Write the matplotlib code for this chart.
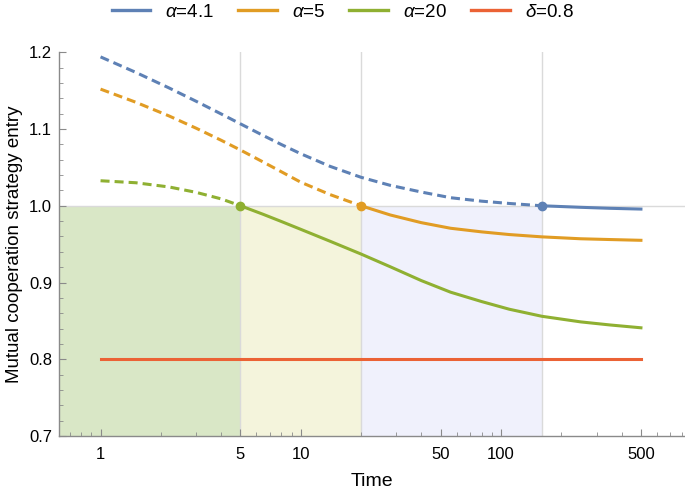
import matplotlib
matplotlib.use("Agg")
import matplotlib.pyplot as plt
from matplotlib.lines import Line2D
from matplotlib.ticker import FixedLocator, LogLocator, NullFormatter, MultipleLocator

plt.rcParams['font.family'] = ['Liberation Sans', 'DejaVu Sans']
plt.rcParams['mathtext.fontset'] = 'custom'
plt.rcParams['mathtext.rm'] = 'Liberation Sans'
plt.rcParams['mathtext.it'] = 'Liberation Sans:italic'

# data
time = [1, 1.5, 2.2, 3, 4, 5, 6.5, 8, 10, 14, 20, 28, 40, 56, 80, 110, 160, 250, 350, 500]
entry_a41 = [1.194, 1.1738, 1.1535, 1.1362, 1.1197, 1.1067, 1.0915, 1.0798, 1.0678, 1.0514,
             1.0371, 1.0266, 1.0179, 1.0105, 1.0060, 1.0030, 1.000, 0.998, 0.9967, 0.9957]
entry_a5 = [1.152, 1.1349, 1.117, 1.1011, 1.0854, 1.0726, 1.0569, 1.0443, 1.0307, 1.0146,
            1.000, 0.988, 0.978, 0.9707, 0.966, 0.9625, 0.9595, 0.957, 0.956, 0.955]
entry_a20 = [1.0326, 1.0300, 1.0245, 1.0175, 1.009, 1.000, 0.9888, 0.9795, 0.9693, 0.9538,
             0.9371, 0.9205, 0.9025, 0.8874, 0.8752, 0.8652, 0.856, 0.8487, 0.8447, 0.841]
delta_time = [1, 500]
delta_val = [0.8, 0.8]

labels = [r'$\alpha$=4.1', r'$\alpha$=5', r'$\alpha$=20', r'$\delta$=0.8']
switch_times = [160, 20, 5]          # where each curve crosses 1.0
region_edges = [0.62, 5, 20, 160]
region_colors = ['#d9e7c6', '#f4f4dc', '#f0f1fc']
colors = ['#5e81b5', '#e19c24', '#8fb032', '#eb6235']

fig = plt.figure(figsize=(6.85, 4.9), dpi=100)
ax = fig.add_axes([0.0861, 0.1102, 0.9139, 0.7831])

# shaded regions below 1.0
for i in range(3):
    ax.fill_between([region_edges[i], region_edges[i + 1]], 0.7, 1.0,
                    color=region_colors[i], lw=0, zorder=0)
for t in switch_times:
    ax.axvline(t, color='#dadada', lw=1, zorder=1)
ax.axhline(1.0, color='#dadada', lw=1, zorder=1)

series = [entry_a41, entry_a5, entry_a20]
for vals, ts, c in zip(series, switch_times, colors):
    xd = [t for t in time if t <= ts]
    yd = vals[:len(xd)]
    xs = [t for t in time if t >= ts]
    ys = vals[len(time) - len(xs):]
    ax.plot(xd, yd, color=c, lw=2.2, dashes=(2.95, 1.65), zorder=3)
    ax.plot(xs, ys, color=c, lw=2.2, zorder=3)
    ax.plot([ts], [1.0], 'o', color=c, ms=6, zorder=4)
ax.plot(delta_time, delta_val, color=colors[3], lw=2.2, zorder=3)

ax.set_xscale('log')
ax.set_xlim(0.62, 830)
ax.set_ylim(0.7, 1.2)
ax.xaxis.set_major_locator(FixedLocator([1, 5, 10, 50, 100, 500]))
ax.xaxis.set_minor_locator(LogLocator(base=10, subs=[2, 3, 4, 6, 7, 8, 9], numticks=20))
ax.xaxis.set_minor_formatter(NullFormatter())
ax.set_xticklabels(['1', '5', '10', '50', '100', '500'])
ax.yaxis.set_major_locator(MultipleLocator(0.1))
ax.yaxis.set_minor_locator(MultipleLocator(0.02))
ax.yaxis.set_major_formatter(matplotlib.ticker.FormatStrFormatter('%.1f'))

for s in ['top', 'right']:
    ax.spines[s].set_visible(False)
for s in ['left', 'bottom']:
    ax.spines[s].set_color('#8a8a8a')
    ax.spines[s].set_linewidth(1)
ax.tick_params(which='major', direction='in', length=5, width=0.8, color='#8a8a8a',
               labelsize=12)
ax.tick_params(which='minor', direction='in', length=3, width=0.6, color='#8a8a8a')
ax.tick_params(axis='x', which='major', pad=8)
ax.tick_params(axis='y', which='major', pad=5)

ax.set_xlabel('Time', fontsize=14, labelpad=8)
ax.set_ylabel('Mutual cooperation strategy entry', fontsize=13.5, labelpad=4)

handles = [Line2D([], [], color=c, lw=2.4) for c in colors]
fig.legend(handles, labels, loc='center', bbox_to_anchor=(0.5, 0.975), ncol=4,
           frameon=False, fontsize=13.5, handlelength=2.05, handletextpad=0.8,
           columnspacing=1.3)

fig.savefig('out.png', dpi=100)
